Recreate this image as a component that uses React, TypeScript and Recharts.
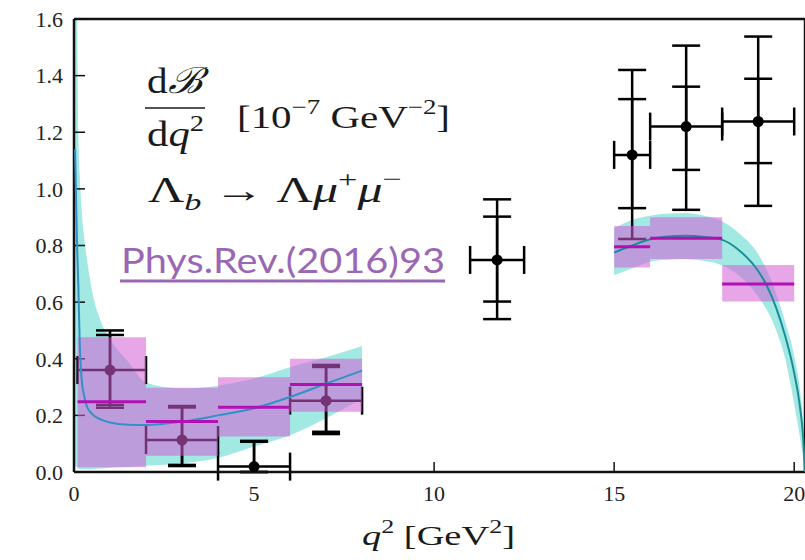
import React from "react";
import {
  ComposedChart,
  XAxis,
  YAxis,
  Area,
  Line,
  Scatter,
  ErrorBar,
  ReferenceArea,
  ReferenceLine,
} from "recharts";

// SM prediction, low-q2 branch (central value and band edges)
const lowQ2 = [0.03, 0.06, 0.09, 0.12, 0.16, 0.21, 0.28, 0.35, 0.5, 0.75, 1, 1.5, 2, 3, 4, 5, 6, 7, 8];
const lowMid = [1.14, 0.95, 0.78, 0.66, 0.45, 0.33, 0.27, 0.235, 0.205, 0.185, 0.175, 0.167, 0.166, 0.178, 0.2, 0.225, 0.265, 0.312, 0.358];
const lowUp = [2.3, 1.9, 1.55, 1.2, 1.05, 0.93, 0.83, 0.76, 0.64, 0.53, 0.47, 0.39, 0.315, 0.295, 0.305, 0.33, 0.37, 0.405, 0.445];
const lowDown = [0.02, 0.02, 0.015, 0.012, 0.01, 0.01, 0.01, 0.01, 0.01, 0.012, 0.015, 0.018, 0.022, 0.03, 0.05, 0.09, 0.13, 0.19, 0.26];

// SM prediction, high-q2 branch
const highQ2 = [15, 15.5, 16, 16.5, 17, 17.5, 18, 18.5, 19, 19.25, 19.5, 19.75, 20, 20.15, 20.25, 20.3];
const highMid = [0.775, 0.8, 0.822, 0.832, 0.834, 0.83, 0.82, 0.78, 0.71, 0.655, 0.58, 0.48, 0.35, 0.24, 0.12, 0.0];
const highUp = [0.86, 0.89, 0.905, 0.913, 0.915, 0.905, 0.885, 0.84, 0.77, 0.71, 0.63, 0.53, 0.41, 0.3, 0.16, 0.0];
const highDown = [0.695, 0.72, 0.743, 0.75, 0.751, 0.745, 0.73, 0.69, 0.62, 0.57, 0.5, 0.4, 0.24, 0.13, 0.05, 0.0];

// measured points
const dataQ2 = [1, 3, 5, 7, 11.75, 15.5, 17, 19];
const dataVal = [0.36, 0.113, 0.019, 0.252, 0.749, 1.12, 1.22, 1.238];
const binLo = [0.1, 2, 4, 6, 11, 15, 16, 18];
const binHi = [2, 4, 6, 8, 12.5, 16, 18, 20];
const totUp = [0.14, 0.12, 0.091, 0.126, 0.214, 0.3, 0.286, 0.3];
const totDown = [0.133, 0.092, 0.019, 0.118, 0.209, 0.297, 0.294, 0.298];
const statUp = [0.124, 0.115, 0.088, 0.119, 0.153, 0.197, 0.141, 0.151];
const statDown = [0.123, 0.088, 0.019, 0.11, 0.147, 0.188, 0.153, 0.147];

// binned predictions
const predLo = [0.1, 2, 4, 6, 15, 16, 18];
const predHi = [2, 4, 6, 8, 16, 18, 20];
const predVal = [0.248, 0.178, 0.229, 0.309, 0.796, 0.826, 0.664];
const predMin = [0.017, 0.057, 0.125, 0.213, 0.722, 0.752, 0.602];
const predMax = [0.476, 0.298, 0.335, 0.4, 0.869, 0.9, 0.731];

const xTicks = [0, 5, 10, 15, 20];
const xTicksTop = [5, 10, 15, 20];
const yTicks = [0, 0.2, 0.4, 0.6, 0.8, 1.0, 1.2, 1.4, 1.6];
const yTicksRight = [0.2, 0.4, 0.6, 0.8, 1.0, 1.2, 1.4];

const curveRows = [
  ...lowQ2.map((q2, i) => ({ q2, midA: lowMid[i], midB: null, band: [lowDown[i], lowUp[i]] })),
  { q2: 11.5, midA: null, midB: null, band: null },
  ...highQ2.map((q2, i) => ({ q2, midA: null, midB: highMid[i], band: [highDown[i], highUp[i]] })),
];

const points = dataQ2.map((q2, i) => ({
  q2,
  v: dataVal[i],
  ex: [q2 - binLo[i], binHi[i] - q2],
  eyTot: [totDown[i], totUp[i]],
  eyStat: [statDown[i], statUp[i]],
}));

const SERIF = "'Liberation Serif', 'DejaVu Serif', serif";
const AXIS = { stroke: "#111", strokeWidth: 2.5 };
const TICK_LINE = { stroke: "#111", strokeWidth: 1.5 };

function Dot(p: any) {
  return <circle cx={p.cx} cy={p.cy} r={5.5} fill="#000" />;
}

function Annotations() {
  return (
    <svg
      width={805}
      height={560}
      style={{ position: "absolute", left: 0, top: 0, pointerEvents: "none" }}
    >
      <g fontFamily={SERIF} fill="#1a1a1a">
        <text x={147} y={93} fontSize={36} textLength={55} lengthAdjust="spacingAndGlyphs">
          d<tspan fontStyle="italic">ℬ</tspan>
        </text>
        <line x1={145} x2={205} y1={108} y2={108} stroke="#1a1a1a" strokeWidth={1.6} />
        <text x={147} y={146} fontSize={36} textLength={57} lengthAdjust="spacingAndGlyphs">
          d<tspan fontStyle="italic">q</tspan>
          <tspan fontSize={24} dy={-15}>2</tspan>
        </text>
        <text x={237} y={128} fontSize={32} textLength={213} lengthAdjust="spacingAndGlyphs">
          [10<tspan fontSize={21} dy={-14}>−7</tspan>
          <tspan dy={14}> GeV</tspan>
          <tspan fontSize={21} dy={-14}>−2</tspan>
          <tspan dy={14}>]</tspan>
        </text>
        <text x={148} y={202} fontSize={35} textLength={254} lengthAdjust="spacingAndGlyphs">
          Λ<tspan fontStyle="italic" fontSize={24} dy={8}>b</tspan>
          <tspan dy={-8}> → Λ</tspan>
          <tspan fontStyle="italic">μ</tspan>
          <tspan fontSize={24} dy={-15}>+</tspan>
          <tspan fontStyle="italic" dy={15}>μ</tspan>
          <tspan fontSize={24} dy={-15}>−</tspan>
        </text>
        <text x={362} y={545} fontSize={28} textLength={153} lengthAdjust="spacingAndGlyphs">
          <tspan fontStyle="italic">q</tspan>
          <tspan fontSize={19} dy={-12}>2</tspan>
          <tspan dy={12}> [GeV</tspan>
          <tspan fontSize={19} dy={-12}>2</tspan>
          <tspan dy={12}>]</tspan>
        </text>
      </g>
      <text
        x={121}
        y={273}
        fontFamily="Lato, 'Open Sans', sans-serif"
        fontSize={35}
        fill="#9a67b5"
        textLength={324}
        lengthAdjust="spacingAndGlyphs"
      >
        Phys.Rev.(2016)93
      </text>
      <line x1={120} x2={445} y1={281} y2={281} stroke="#9a67b5" strokeWidth={3} />
    </svg>
  );
}

export default function App() {
  return (
    <div
      style={{
        position: "absolute",
        left: 0,
        top: 0,
        width: 805,
        height: 560,
        overflow: "hidden",
        background: "#fff",
      }}
    >
      <ComposedChart
        width={808}
        height={560}
        data={curveRows}
        margin={{ top: 18, right: 2, bottom: 20, left: 14 }}
      >
        <XAxis
          dataKey="q2"
          type="number"
          domain={[0, 20.3]}
          allowDataOverflow
          ticks={xTicks}
          interval={0}
          tickSize={-10}
          tickMargin={23}
          height={68}
          axisLine={AXIS}
          tickLine={TICK_LINE}
          tick={{ fontSize: 22, fill: "#222", fontFamily: SERIF }}
        />
        <XAxis
          xAxisId="top"
          orientation="top"
          type="number"
          domain={[0, 20.3]}
          ticks={xTicksTop}
          interval={0}
          tick={false}
          tickSize={-10}
          height={1}
          axisLine={AXIS}
          tickLine={TICK_LINE}
        />
        <YAxis
          type="number"
          domain={[0, 1.6]}
          allowDataOverflow
          ticks={yTicks}
          interval={0}
          tickFormatter={(v: number) => v.toFixed(1)}
          tickSize={-11}
          tickMargin={22}
          width={60}
          axisLine={AXIS}
          tickLine={TICK_LINE}
          tick={{ fontSize: 22, fill: "#222", fontFamily: SERIF }}
        />
        <YAxis
          yAxisId="right"
          orientation="right"
          type="number"
          domain={[0, 1.6]}
          ticks={yTicksRight}
          interval={0}
          tick={false}
          tickSize={-11}
          width={1}
          axisLine={AXIS}
          tickLine={TICK_LINE}
        />
        <Area
          dataKey="band"
          type="monotone"
          fill="#a2e8e3"
          fillOpacity={1}
          stroke="none"
          isAnimationActive={false}
          zIndex={100}
        />
        <Scatter data={points} dataKey="v" shape={Dot} isAnimationActive={false} zIndex={600}>
          <ErrorBar dataKey="ex" direction="x" width={14} stroke="#000" strokeWidth={2.5} />
          <ErrorBar dataKey="eyTot" direction="y" width={14} stroke="#000" strokeWidth={2.5} />
          <ErrorBar dataKey="eyStat" direction="y" width={14} stroke="#000" strokeWidth={2.5} />
        </Scatter>
        {predLo.map((lo, i) => (
          <ReferenceArea
            key={"box" + i}
            x1={lo}
            x2={predHi[i]}
            y1={predMin[i]}
            y2={predMax[i]}
            fill="#d25dd5"
            fillOpacity={0.55}
            stroke="none"
            zIndex={650}
          />
        ))}
        <Line
          dataKey="midA"
          type="monotone"
          stroke="#3291c6"
          strokeWidth={2}
          dot={false}
          activeDot={false}
          isAnimationActive={false}
          zIndex={655}
        />
        <Line
          dataKey="midB"
          type="monotone"
          stroke="#1a8e98"
          strokeWidth={2}
          dot={false}
          activeDot={false}
          isAnimationActive={false}
          zIndex={655}
        />
        {predLo.map((lo, i) => (
          <ReferenceLine
            key={"pred" + i}
            segment={[
              { x: lo, y: predVal[i] },
              { x: predHi[i], y: predVal[i] },
            ]}
            stroke="#b010b4"
            strokeWidth={3}
            zIndex={660}
          />
        ))}
      </ComposedChart>
      <Annotations />
    </div>
  );
}
